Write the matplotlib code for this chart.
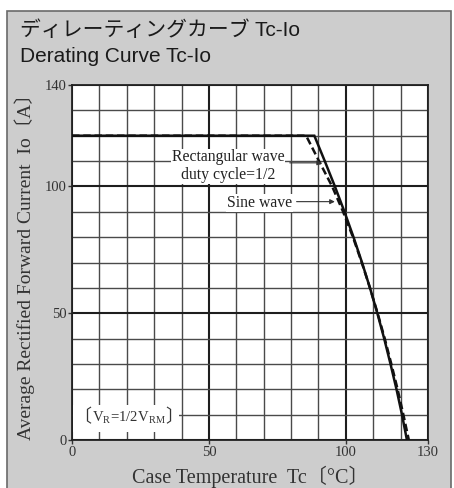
import numpy as np
import matplotlib.pyplot as plt
from matplotlib.patches import Rectangle
from matplotlib.ticker import MultipleLocator

# values (Tc in degC, Io in A)
rect_io = [120, 120, 110, 100, 90, 80, 70, 60, 50, 40, 30, 20, 10, 0]
rect_tc = [0, 88.5, 92.3, 96.0, 99.5, 102.8, 105.9, 108.8, 111.5, 114.0, 116.3, 118.5, 120.5, 122.3]
sine_io = [120, 120, 110, 100, 90, 80, 70, 60, 50, 40, 30, 20, 10, 0]
sine_tc = [0, 85.5, 90.2, 95.0, 99.0, 102.6, 105.8, 108.8, 111.6, 114.2, 116.6, 118.9, 121.0, 123.0]

xticks = [0, 50, 100, 130]
yticks = [0, 50, 100, 140]

serif = ["Liberation Serif", "Noto Sans CJK JP"]
sans = ["Liberation Sans", "Noto Sans CJK JP"]
plt.rcParams["mathtext.fontset"] = "custom"
plt.rcParams["mathtext.rm"] = "Liberation Serif"

fig = plt.figure(figsize=(4.54, 4.88), dpi=100, facecolor="white")

# grey panel with a frame
fig.patches.append(Rectangle((7 / 454, -0.01), 444 / 454, (488 - 11) / 488 + 0.01,
                             transform=fig.transFigure, facecolor="#cdcdcd",
                             edgecolor="#6a6a6a", lw=1.2, zorder=-5))

fig.text(20 / 454, 1 - 30 / 488, "ディレーティングカーブ Tc-Io", family=sans,
         fontsize=15, va="center", color="#1a1a1a")
fig.text(20 / 454, 1 - 56 / 488, "Derating Curve Tc-Io", family=sans,
         fontsize=15, va="center", color="#1a1a1a")

ax = fig.add_axes([72 / 454, (488 - 440) / 488, 356 / 454, 355 / 488])
ax.set_facecolor("white")
ax.set_xlim(0, 130)
ax.set_ylim(0, 140)
ax.set_xticks(xticks)
ax.set_yticks(yticks)
ax.xaxis.set_minor_locator(MultipleLocator(10))
ax.yaxis.set_minor_locator(MultipleLocator(10))
ax.grid(which="minor", color="#4a4a4a", lw=1.0)
ax.grid(which="major", color="#1e1e1e", lw=1.5)
ax.tick_params(which="minor", length=0)
ax.tick_params(which="major", length=3, width=1, direction="out", color="#333333",
               labelsize=10.5, labelcolor="#333333", pad=1)
for lab in ax.get_xticklabels() + ax.get_yticklabels():
    lab.set_family(serif)
for s in ax.spines.values():
    s.set_color("#222222")
    s.set_linewidth(1.3)

ax.plot(rect_tc, rect_io, color="#111111", lw=1.8, solid_joinstyle="miter", zorder=4)
ax.plot(sine_tc, sine_io, color="#111111", lw=1.8, ls=(0, (3, 1.5)), zorder=4)

ax.text(57.0, 111.5, "Rectangular wave", family=serif, fontsize=11.3, ha="center",
        va="center", color="#222222",
        bbox=dict(facecolor="white", edgecolor="none", pad=0.5), zorder=3)
ax.text(57.0, 104.5, "duty cycle=1/2", family=serif, fontsize=11.3, ha="center",
        va="center", color="#222222",
        bbox=dict(facecolor="white", edgecolor="none", pad=0.5), zorder=3)
ax.text(68.5, 93.5, "Sine wave", family=serif, fontsize=11.3, ha="center",
        va="center", color="#222222",
        bbox=dict(facecolor="white", edgecolor="none", pad=0.5), zorder=3)
ax.annotate("", xy=(92.3, 109.3), xytext=(78.5, 109.3),
            arrowprops=dict(arrowstyle="-|>", color="#333333", lw=0.8,
                            mutation_scale=7), zorder=5)
ax.annotate("", xy=(97.0, 94.0), xytext=(81.0, 94.0),
            arrowprops=dict(arrowstyle="-|>", color="#333333", lw=0.8,
                            mutation_scale=7), zorder=5)

ax.add_patch(Rectangle((0.4, 3.3), 38.6, 10.4, facecolor="white", edgecolor="none",
                       zorder=3))
ax.text(7.0, 8.8, "〔", family=serif, fontsize=13, ha="right", va="center",
        color="#333333", zorder=4)
ax.text(34.2, 8.8, "〕", family=serif, fontsize=13, ha="left", va="center",
        color="#333333", zorder=4)
ax.text(20.6, 8.8, r"V$_\mathrm{R}$=1/2V$_\mathrm{RM}$", family="Liberation Serif",
        fontsize=10.6, ha="center", va="center", color="#333333", zorder=4)

ax.set_xlabel("Case Temperature  Tc〔°C〕", family=serif, fontsize=14.5,
              color="#333333", labelpad=5)
ax.set_ylabel("Average Rectified Forward Current  Io〔A〕", family=serif,
              fontsize=14, color="#333333", labelpad=7)

fig.savefig("out.png", dpi=100)
